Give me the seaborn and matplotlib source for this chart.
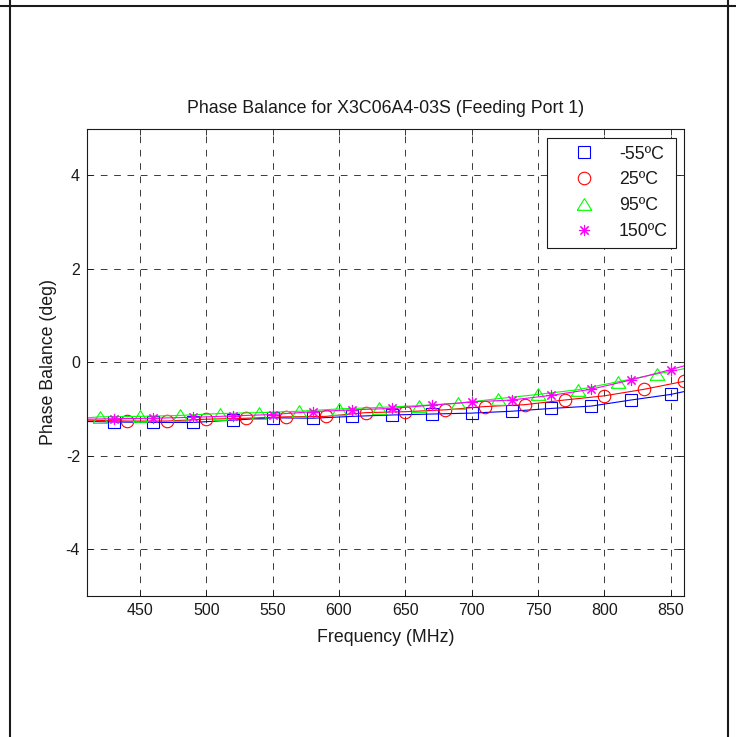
import matplotlib
matplotlib.use("Agg")
import matplotlib.pyplot as plt
from matplotlib.lines import Line2D
import seaborn as sns

# readings, deg vs MHz
freq_m55 = [410, 430, 460, 490, 520, 550, 580, 610, 640, 670, 700, 730, 760, 790, 820, 850, 860]
phase_m55 = [-1.27, -1.28, -1.29, -1.29, -1.24, -1.19, -1.20, -1.16, -1.13, -1.11, -1.09,
             -1.05, -0.99, -0.94, -0.81, -0.69, -0.63]

freq_25 = [410, 440, 470, 500, 530, 560, 590, 620, 650, 680, 710, 740, 770, 800, 830, 860]
phase_25 = [-1.24, -1.26, -1.26, -1.22, -1.20, -1.17, -1.16, -1.08, -1.06, -1.02,
            -0.95, -0.91, -0.81, -0.72, -0.58, -0.41]

freq_95 = [410, 420, 450, 480, 510, 540, 570, 600, 630, 660, 690, 720, 750, 780, 810, 840, 860]
phase_95 = [-1.19, -1.17, -1.16, -1.14, -1.10, -1.08, -1.05, -1.00, -0.97, -0.93, -0.88,
            -0.78, -0.69, -0.59, -0.42, -0.25, -0.14]

freq_150 = [410, 430, 460, 490, 520, 550, 580, 610, 640, 670, 700, 730, 760, 790, 820, 850, 860]
phase_150 = [-1.22, -1.21, -1.20, -1.18, -1.15, -1.12, -1.06, -1.02, -0.99, -0.92, -0.85,
             -0.81, -0.71, -0.58, -0.38, -0.16, -0.08]

labels = ["-55ºC", "25ºC", "95ºC", "150ºC"]
xticks = [450, 500, 550, 600, 650, 700, 750, 800, 850]
yticks = [-4, -2, 0, 2, 4]

sns.set_theme(style="ticks")
plt.rcParams["font.family"] = ["Liberation Sans", "DejaVu Sans"]
plt.rcParams["axes.unicode_minus"] = False
plt.rcParams["text.color"] = "k"
plt.rcParams["axes.labelcolor"] = "k"

fig = plt.figure(figsize=(7.36, 7.37), dpi=100)
ax = fig.add_axes([0.1182, 0.1917, 0.8111, 0.6337])

# matlab-style wide triangle
tri = [(-1, -0.8), (1, -0.8), (0, 0.8), (-1, -0.8)]

series = [
    (freq_m55, phase_m55, "#0000ff", "s", 8.2, slice(1, -1)),
    (freq_25, phase_25, "#ff0000", "o", 9.0, slice(1, None)),
    (freq_95, phase_95, "#00ff00", tri, 10.5, slice(1, -1)),
    (freq_150, phase_150, "#ff00ff", (8, 2, 0), 8.0, slice(1, -1)),
]

handles = []
for (f, p, c, m, ms, every), lab in zip(series, labels):
    sns.lineplot(x=f, y=p, ax=ax, color=c, lw=0.8, marker=m, ms=ms,
                 mfc="none", mec=c, mew=0.8, markevery=every, sort=False)
    handles.append(Line2D([], [], ls="none", marker=m, ms=ms, mfc="none",
                          mec=c, mew=0.8))

ax.set_xlim(410, 860)
ax.set_ylim(-5, 5)
ax.set_xticks(xticks)
ax.set_yticks(yticks)
ax.grid(True, color="k", lw=0.6, ls=(0, (8, 8)))
ax.set_axisbelow(True)
for s in ax.spines.values():
    s.set_visible(True)
    s.set_linewidth(0.8)
    s.set_color("k")
ax.tick_params(direction="in", top=True, right=True, length=4.5, width=0.6,
               labelsize=11.5, pad=5, colors="k")

ax.set_title("Phase Balance for X3C06A4-03S (Feeding Port 1)", fontsize=12.8, pad=11, color="k")
ax.set_xlabel("Frequency (MHz)", fontsize=12.8, labelpad=8)
ax.set_ylabel("Phase Balance (deg)", fontsize=12.8, labelpad=6)

leg = ax.legend(handles, labels, loc="upper right", bbox_to_anchor=(0.9866, 0.981),
                borderaxespad=0, fontsize=12.8, frameon=True, fancybox=False,
                edgecolor="k", framealpha=1, borderpad=0.45, handlelength=3.3,
                handletextpad=0.3, labelspacing=0.5)
leg.get_frame().set_linewidth(0.8)

# page border lines around the figure
fig.add_artist(Line2D([0, 1], [1 - 5.5 / 737] * 2, transform=fig.transFigure, color="k", lw=1.5))
fig.add_artist(Line2D([9.5 / 736] * 2, [0, 1], transform=fig.transFigure, color="k", lw=1.5))
fig.add_artist(Line2D([728 / 736] * 2, [0, 1], transform=fig.transFigure, color="k", lw=1.5))

fig.savefig("out.png", dpi=100)
